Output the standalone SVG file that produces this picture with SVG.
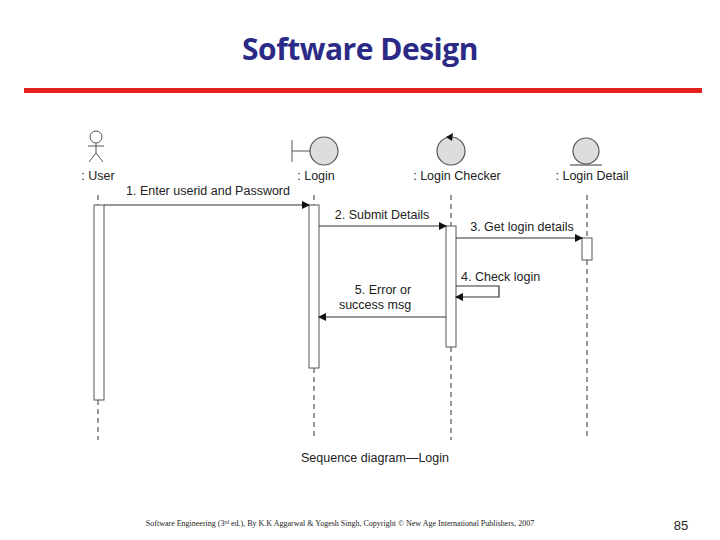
<svg xmlns="http://www.w3.org/2000/svg" width="720" height="540" viewBox="0 0 720 540">
<style>
.t{font-family:"Liberation Sans",Arial,sans-serif;font-size:12.5px;fill:#222}
.ll{stroke:#333;stroke-width:1;stroke-dasharray:5,4}
.act{fill:#fff;stroke:#555;stroke-width:1}
.ic{fill:#ddd;stroke:#555;stroke-width:1.2}
.m{stroke:#333;stroke-width:1.2;fill:none}
</style>
<defs><marker id="a" markerWidth="8" markerHeight="8" refX="7" refY="4" orient="auto" markerUnits="userSpaceOnUse"><path d="M0,0 L8,4 L0,8 z" fill="#111"/></marker></defs>
<rect width="720" height="540" fill="#fff"/>
<text x="360" y="60" text-anchor="middle" font-family="Open Sans,Lato,sans-serif" font-weight="bold" font-size="30" fill="#2b2a86" letter-spacing="-0.5">Software Design</text>
<rect x="24" y="88" width="678" height="5" fill="#e3201b"/>
<g id="user"><circle cx="96" cy="137" r="6" fill="#fff" stroke="#555"/><path d="M96,143 V153 M88,146 H104 M96,153 L89,162 M96,153 L103,162" stroke="#555" fill="none"/>
<text class="t" x="98" y="180" text-anchor="middle">: User</text>
<line class="ll" x1="98" y1="195" x2="98" y2="205"/><line class="ll" x1="98" y1="400" x2="98" y2="440"/>
<rect class="act" x="94" y="205" width="10" height="195"/></g>
<g id="login"><circle class="ic" cx="324" cy="151" r="14"/><path d="M292,140 V162 M292,151 H310" stroke="#555" fill="none"/>
<text class="t" x="316" y="180" text-anchor="middle">: Login</text>
<line class="ll" x1="314" y1="195" x2="314" y2="205"/><line class="ll" x1="314" y1="368" x2="314" y2="440"/>
<rect class="act" x="309" y="205" width="10" height="163"/></g>
<g id="checker"><circle class="ic" cx="451" cy="151" r="14"/><path d="M446,137 L453,133 L452,141 z" fill="#111"/>
<text class="t" x="457" y="180" text-anchor="middle">: Login Checker</text>
<line class="ll" x1="451" y1="195" x2="451" y2="226"/><line class="ll" x1="451" y1="347" x2="451" y2="440"/>
<rect class="act" x="446" y="226" width="10" height="121"/></g>
<g id="detail"><circle class="ic" cx="586" cy="151" r="13"/><path d="M570,165 H602" stroke="#333"/>
<text class="t" x="592" y="180" text-anchor="middle">: Login Detail</text>
<line class="ll" x1="587" y1="195" x2="587" y2="238"/><line class="ll" x1="587" y1="260" x2="587" y2="440"/>
<rect class="act" x="582" y="238" width="10" height="22"/></g>
<g id="connectors">
<line class="m" x1="104" y1="205" x2="309" y2="205" marker-end="url(#a)"/>
<text class="t" x="208" y="195" text-anchor="middle">1. Enter userid and Password</text>
<line class="m" x1="319" y1="226" x2="446" y2="226" marker-end="url(#a)"/>
<text class="t" x="382" y="219" text-anchor="middle">2. Submit Details</text>
<line class="m" x1="456" y1="238" x2="582" y2="238" marker-end="url(#a)"/>
<text class="t" x="522" y="231" text-anchor="middle">3. Get login details</text>
<path class="m" d="M456,286 H499 V297 H456" marker-end="url(#a)"/>
<text class="t" x="461" y="281">4. Check login</text>
<line class="m" x1="446" y1="317" x2="319" y2="317" marker-end="url(#a)"/>
<text class="t" x="383" y="294" text-anchor="middle">5. Error or</text>
<text class="t" x="375" y="309" text-anchor="middle">success msg</text>
</g>
<text class="t" x="375" y="462" text-anchor="middle">Sequence diagram—Login</text>
<text x="340" y="526" text-anchor="middle" font-family="Liberation Serif,serif" font-size="8" fill="#222">Software Engineering (3<tspan font-size="5.5" dy="-2">rd</tspan><tspan dy="2"> ed.), By K.K Aggarwal &amp; Yogesh Singh, Copyright © New Age International Publishers, 2007</tspan></text>
<text x="681" y="530" text-anchor="middle" font-family="Liberation Sans,sans-serif" font-size="13" fill="#222">85</text>
</svg>
